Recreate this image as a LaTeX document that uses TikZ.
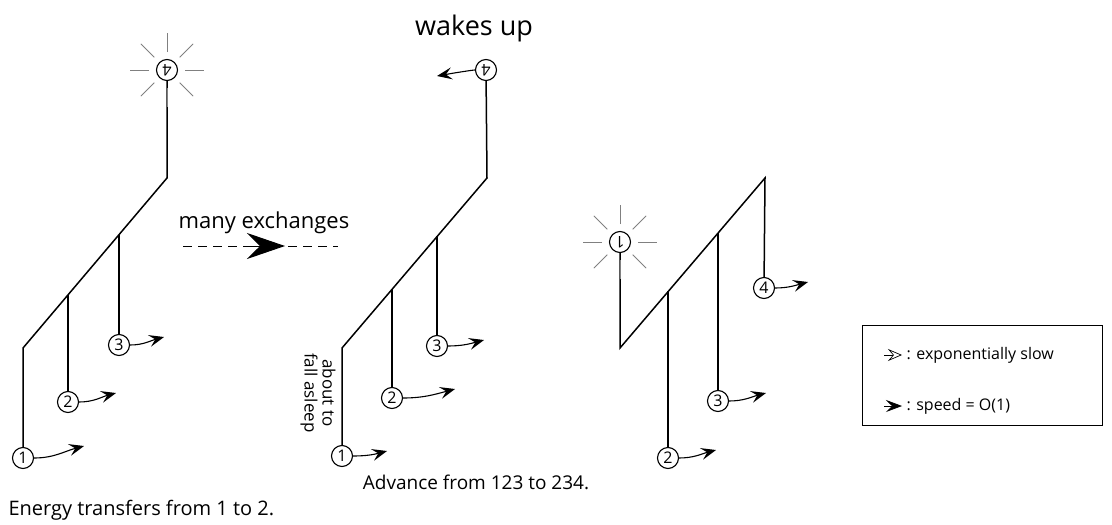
\documentclass[tikz,border=0pt]{standalone}
\usepackage{fontspec}
\setmainfont{Open Sans}
\usepackage{tikz}
\usetikzlibrary{arrows.meta,positioning}

\begin{document}
\begin{tikzpicture}[x=1pt, y=-1pt,
    ball/.style={circle, draw, line width=1.1pt, inner sep=0pt, minimum size=21pt, font=\fontsize{16}{16}\selectfont},
    rod/.style={line width=1.5pt},
    push/.style={-{Stealth[length=15pt, width=12pt, inset=6pt]}, line width=1.1pt},
    ray/.style={line width=0.8pt, black!50},
    label/.style={font=\fontsize{20}{24}\selectfont},
    small/.style={font=\fontsize{16}{18}\selectfont}
]
\useasboundingbox (0,0) rectangle (1112,525);

% Energy transfers from 1 to 2
\node[ball] (a1) at (23,458) {1};
\node[ball] (a2) at (68,402) {2};
\node[ball] (a3) at (119,345) {3};
\node[ball, rotate=180] (a4) at (167,70) {4};
\coordinate (a0) at (23,348);
\coordinate (at) at (167,178);
\coordinate (ab2) at (68,295);
\coordinate (ab3) at (119,235);
\draw[rod] (a1) -- (a0) -- (at) -- (a4);
\draw[rod] (ab2) -- (a2);
\draw[rod] (ab3) -- (a3);
\foreach \a in {0,45,...,315}
    \draw[ray] (a4) ++(\a:18pt) -- ++(\a:19pt);
\coordinate (a1t) at (84,446);
\coordinate (a2t) at (116,393);
\coordinate (a3t) at (164,337);
\draw[push] (a1) to[out=0, in=195] (a1t);
\draw[push] (a2) to[out=0, in=195] (a2t);
\draw[push] (a3) to[out=0, in=195] (a3t);

% many exchanges
\node[label, font=\fontsize{22}{26}\selectfont] (many) at (264,223) {many exchanges};
\coordinate (dashL) at (183,246);
\coordinate (dashR) at (338,246);
\coordinate (headA) at (250,246);
\coordinate (headB) at (285,246);
\draw[line width=1pt, dash pattern=on 9pt off 6pt] (dashL) -- (dashR);
\draw[-{Stealth[length=38pt, width=26pt, inset=13pt]}, line width=1pt] (headA) -- (headB);

% Advance from 123 to 234
\node[ball] (b1) at (342,456) {1};
\node[ball] (b2) at (392,398) {2};
\node[ball] (b3) at (437,346) {3};
\node[ball, rotate=180] (b4) at (486,70) {4};
\coordinate (b0) at (342,348);
\coordinate (bt) at (487,178);
\coordinate (bb2) at (392,289);
\coordinate (bb3) at (437,236);
\draw[rod] (b1) -- (b0) -- (bt) -- (b4);
\draw[rod] (bb2) -- (b2);
\draw[rod] (bb3) -- (b3);
\coordinate (b1t) at (387,451);
\coordinate (b2t) at (455,389);
\coordinate (b3t) at (484,340);
\coordinate (b4t) at (437,76);
\draw[push] (b1) to[out=0, in=195] (b1t);
\draw[push] (b2) to[out=0, in=195] (b2t);
\draw[push] (b3) to[out=0, in=195] (b3t);
\draw[push] (b4) to[out=180, in=10] (b4t);
\node[rotate=-90, align=center, font=\fontsize{17}{18}\selectfont] (asleep) at (318,393) {about to\\fall asleep};

\node[font=\fontsize{27}{30}\selectfont] (wake) at (474,28) {wakes up};

% 1 wakes up
\node[ball, rotate=180] (c1) at (620,242) {1};
\node[ball] (c2) at (668,458) {2};
\node[ball] (c3) at (718,401) {3};
\node[ball] (c4) at (764,288) {4};
\coordinate (c0) at (620,348);
\coordinate (ct) at (765,178);
\coordinate (cb2) at (668,291);
\coordinate (cb3) at (718,233);
\draw[rod] (c1) -- (c0) -- (ct) -- (c4);
\draw[rod] (cb2) -- (c2);
\draw[rod] (cb3) -- (c3);
\foreach \a in {0,45,...,315}
    \draw[ray] (c1) ++(\a:18pt) -- ++(\a:19pt);
\coordinate (c2t) at (716,450);
\coordinate (c3t) at (766,393);
\coordinate (c4t) at (808,282);
\draw[push] (c2) to[out=0, in=195] (c2t);
\draw[push] (c3) to[out=0, in=195] (c3t);
\draw[push] (c4) to[out=0, in=195] (c4t);

% legend
\node[draw, line width=1pt, minimum width=240pt, minimum height=100pt] (legend) at (982,375) {};
\coordinate (slowA) at (884,355);
\coordinate (slowB) at (902,355);
\coordinate (fastA) at (884,406);
\coordinate (fastB) at (902,406);
\draw[-{Stealth[open, length=14pt, width=12pt, inset=5pt]}, line width=0.7pt] (slowA) -- (slowB);
\draw[-{Stealth[length=16pt, width=12pt, inset=6pt]}, line width=0.7pt] (fastA) -- (fastB);
\node[small, anchor=west] (slowtxt) at (903,355) {: exponentially slow};
\node[small, anchor=west] (fasttxt) at (903,406) {: speed = O(1)};

% captions
\node[font=\fontsize{19}{22}\selectfont] (advance) at (476,482) {Advance from 123 to 234.};
\node[label, anchor=west] (energy) at (5,510) {Energy transfers from 1 to 2.};
\end{tikzpicture}
\end{document}
